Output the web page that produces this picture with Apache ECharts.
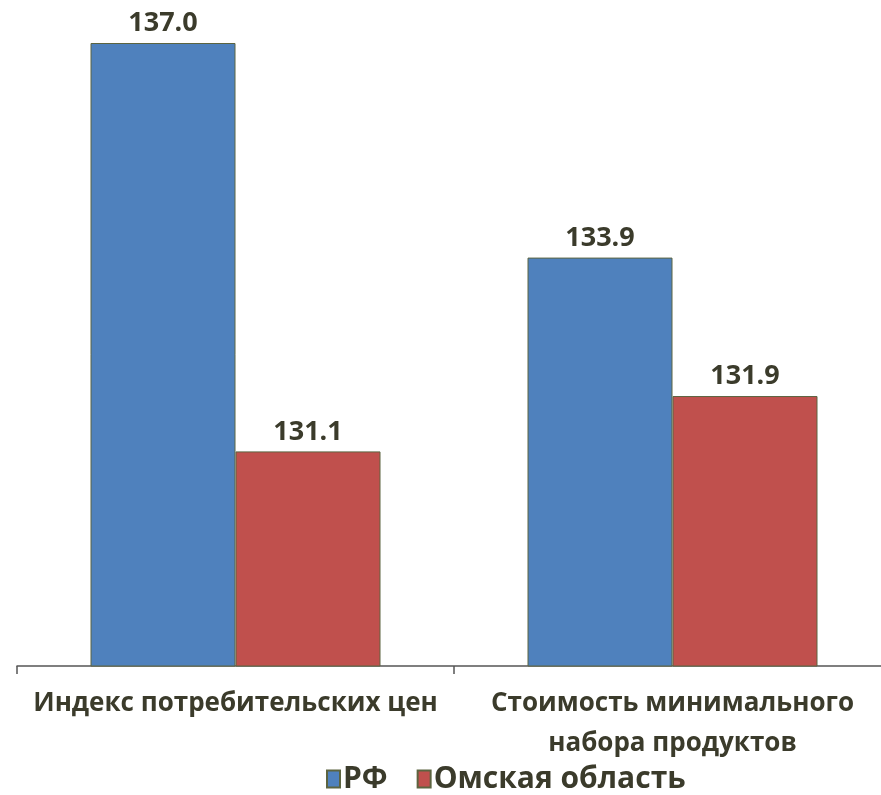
<!DOCTYPE html>
<html><head><meta charset="utf-8">
<script src="https://cdn.jsdelivr.net/npm/echarts@6/dist/echarts.min.js"></script>
<style>html,body{margin:0;padding:0;background:#fff}#c{width:881px;height:795px}</style>
</head><body><div id="c"></div>
<script>
var categories = ['Индекс потребительских цен', 'Стоимость минимального\nнабора продуктов'];
var seriesNames = ['РФ', 'Омская область'];
var rfValues = [137.0, 133.9];
var omskValues = [131.1, 131.9];

var textColor = '#3b3b2b';
var font = '"Open Sans", sans-serif';
var chart = echarts.init(document.getElementById('c'));
function lbl(){
  return { show: true, position: 'top', distance: 6, formatter: function(p){return p.value.toFixed(1);},
    fontFamily: font, fontWeight: 'bold', fontSize: 27, color: textColor };
}
chart.setOption({
  animation: false,
  grid: { left: 17, width: 874, top: 43, bottom: 129, outerBoundsMode: 'none', containLabel: false },
  legend: {
    data: seriesNames, top: 764, left: 326, icon: 'rect', padding: 0,
    itemWidth: 13, itemHeight: 17, itemGap: 29,
    textStyle: { fontFamily: font, fontWeight: 'bold', fontSize: 30, lineHeight: 30, color: textColor, padding: [0,0,0,-2] }
  },
  xAxis: {
    type: 'category', data: categories,
    axisLine: { lineStyle: { color: '#555', width: 1.5 } },
    axisTick: { show: true, length: 8, lineStyle: { color: '#555', width: 1.5 } },
    axisLabel: { fontFamily: font, fontWeight: 'bold', fontSize: 26, color: textColor, margin: 18, lineHeight: 40, interval: 0 }
  },
  yAxis: { type: 'value', min: 128, max: 137, show: false, splitLine: { show: false } },
  series: [
    { name: seriesNames[0], type: 'bar', data: rfValues, barWidth: 145, barGap: '0%',
      itemStyle: { color: '#4F81BD', borderColor: '#5c6440', borderWidth: 1 }, label: lbl() },
    { name: seriesNames[1], type: 'bar', data: omskValues, barWidth: 145,
      itemStyle: { color: '#C0504D', borderColor: '#5c6440', borderWidth: 1 }, label: lbl() }
  ]
});
</script></body></html>
